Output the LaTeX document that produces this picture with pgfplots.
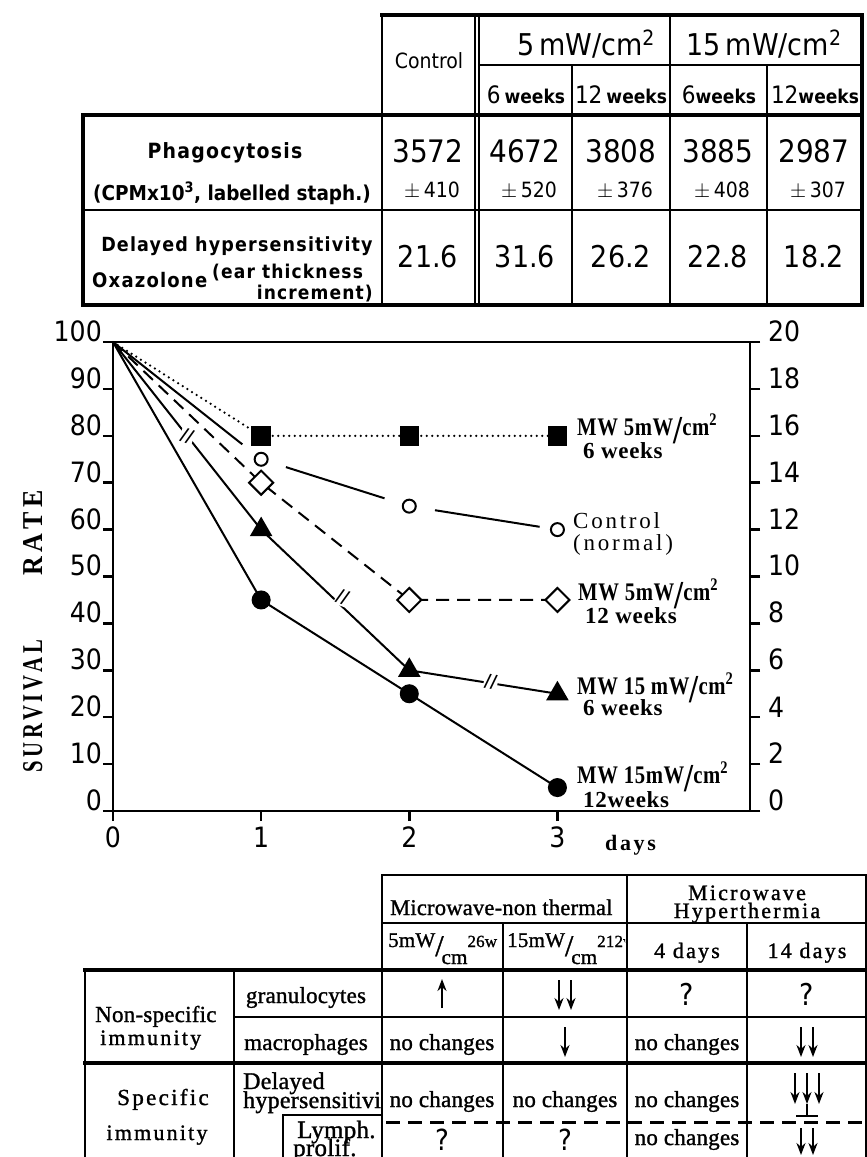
\documentclass[border=0pt]{standalone}
\usepackage{fontspec}
\usepackage{pgfplots}
\pgfplotsset{compat=1.18}
\usetikzlibrary{arrows.meta}
\setmainfont{Liberation Serif}
\newfontfamily\nf{DejaVu Sans Condensed}
\newfontfamily\nfs[LetterSpace=6]{DejaVu Sans Condensed}
\newfontfamily\lf[LetterSpace=3]{Liberation Serif}
\newfontfamily\lfsp[LetterSpace=12]{Liberation Serif}
\newfontfamily\tf[LetterSpace=1,FakeBold=1.2]{Liberation Serif}
\newfontfamily\tfsp[LetterSpace=10,FakeBold=1.2]{Liberation Serif}
\newcommand{\fs}[1]{\fontsize{#1}{#1}\selectfont}
\newcommand{\T}[4][base]{\node[anchor=#1,inner sep=0pt] at (#2pt,-#3pt) {#4};}
\newcommand{\ML}[1]{\lf\bfseries\fs{23}\scalebox{0.9}[1.1]{MW #1mW\raisebox{-8pt}{\fs{36}/}cm\textsuperscript{2}}}

\begin{document}
\begin{tikzpicture}
\useasboundingbox (0pt,0pt) rectangle (867pt,-1157pt);
\clip (0pt,0pt) rectangle (867pt,-1157pt);
\fill[white] (0pt,0pt) rectangle (867pt,-1157pt);

% ---------------- top table ----------------
\begin{scope}[x=1pt,y=1pt,line width=2.5pt,line cap=rect]
\draw[line width=4pt] (382,-15) -- (862,-15);
\draw (382,-15) -- (382,-305);
\draw (475,-15) -- (475,-305);
\draw (479,-15) -- (479,-305);
\draw (572,-65) -- (572,-305);
\draw (670,-15) -- (670,-305);
\draw (767,-65) -- (767,-305);
\draw[line width=3.5pt] (862,-15) -- (862,-305);
\draw (479,-65) -- (862,-65);
\draw[line width=4pt] (83,-115) -- (862,-115);
\draw (83,-210) -- (862,-210);
\draw[line width=4pt] (83,-305) -- (862,-305);
\draw[line width=3.5pt] (83,-115) -- (83,-305);
\end{scope}

\T{429}{68}{\nf\fs{21}Control}
\T{586}{55}{\nf\fs{30}5\,mW/cm\textsuperscript{2}}
\T{764}{55}{\nf\fs{30}15\,mW/cm\textsuperscript{2}}
\T{526}{103}{\nf\fs{24}6\,{\bfseries\fs{19}weeks}}
\T{621}{103}{\nf\fs{24}12\,{\bfseries\fs{19}weeks}}
\T{719}{103}{\nf\fs{24}6{\bfseries\fs{19}weeks}}
\T{815}{103}{\nf\fs{24}12{\bfseries\fs{19}weeks}}

\T{428}{162}{\nf\fs{31}3572}
\T{525}{162}{\nf\fs{31}4672}
\T{621}{162}{\nf\fs{31}3808}
\T{718}{162}{\nf\fs{31}3885}
\T{814}{162}{\nf\fs{31}2987}
\T{432}{197}{\nf\fs{21}$\pm$\,410}
\T{529}{197}{\nf\fs{21}$\pm$\,520}
\T{625}{197}{\nf\fs{21}$\pm$\,376}
\T{722}{197}{\nf\fs{21}$\pm$\,408}
\T{818}{197}{\nf\fs{21}$\pm$\,307}
\T{428}{267}{\nf\fs{30}21.6}
\T{525}{267}{\nf\fs{30}31.6}
\T{621}{267}{\nf\fs{30}26.2}
\T{718}{267}{\nf\fs{30}22.8}
\T{814}{267}{\nf\fs{30}18.2}

\T{225}{158}{\nfs\bfseries\fs{21}Phagocytosis}
\T{232}{200}{\nf\bfseries\fs{20.5}(CPMx10\textsuperscript{3}, labelled staph.)}
\T{237}{251}{\nfs\bfseries\fs{19.5}Delayed hypersensitivity}
\T[base west]{92}{287}{\nfs\bfseries\fs{20}Oxazolone}
\T[base west]{212}{278}{\nfs\bfseries\fs{19}(ear thickness}
\T[base east]{373}{299}{\nfs\bfseries\fs{19}increment)}

% ---------------- chart ----------------
\begin{axis}[
  at={(113pt,-811pt)}, anchor=south west, scale only axis,
  width=637pt, height=469pt,
  xmin=0, xmax=4.3, ymin=0, ymax=100,
  xtick={0,1,2,3}, ytick={0,10,...,100},
  xtick pos=bottom, ytick pos=left,
  tick align=outside, major tick length=10pt,
  tick style={line width=2.5pt,black},
  axis line style={line width=2.5pt},
  /pgf/number format/assume math mode=true,
  yticklabel style={anchor=south east, inner sep=0pt, font=\nf\fs{28}, xshift=-1pt},
  xticklabel style={anchor=north, inner sep=0pt, font=\nf\fs{28}, yshift=-6pt},
  clip=false,
]
% MW 5 mW/cm2, 6 weeks
\addplot[black, line width=2.5pt, line cap=round, dash pattern=on 0pt off 5.5pt,
  mark=square*, mark size=8.5pt, mark options={solid}, mark indices={2,3,4}]
  coordinates {(0,100) (1,80) (2,80) (3,80)};
% Control (normal)
\addplot[black, line width=2pt, shorten >=24pt, mark=none] coordinates {(0,100) (1,75)};
\addplot[black, line width=2pt, shorten <=26pt, shorten >=26pt, mark=none] coordinates {(1,75) (2,65)};
\addplot[black, line width=2pt, shorten <=26pt, shorten >=18pt, mark=none] coordinates {(2,65) (3,60)};
\addplot[only marks, mark=*, mark size=6.5pt, mark options={fill=white, draw=black, line width=2pt}]
  coordinates {(1,75) (2,65) (3,60)};
% MW 5 mW/cm2, 12 weeks
\addplot[black, line width=2pt, dash pattern=on 13pt off 8pt,
  mark=square*, mark size=8.5pt, mark options={solid, rotate=45, fill=white, line width=2pt}, mark indices={2,3,4}]
  coordinates {(0,100) (1,70) (2,45) (3,45)};
% MW 15 mW/cm2, 6 weeks
\addplot[black, line width=2pt, mark=triangle*, mark size=11pt, mark indices={2,3,4}]
  coordinates {(0,100) (1,60) (2,30) (3,25)};
% MW 15 mW/cm2, 12 weeks
\addplot[black, line width=2pt, mark=*, mark size=8.5pt, mark indices={2,3,4}]
  coordinates {(0,100) (1,45) (2,25) (3,5)};
% break marks on the 6-week 15 mW line
\node[fill=white, inner sep=1pt, rotate=-20] at (axis cs:0.5,80) {\nf\bfseries\fs{18}//};
\node[fill=white, inner sep=1pt, rotate=-20] at (axis cs:1.55,45.5) {\nf\bfseries\fs{18}//};
\node[fill=white, inner sep=1pt, rotate=-10] at (axis cs:2.55,27.5) {\nf\bfseries\fs{18}//};
\end{axis}
\begin{axis}[
  at={(113pt,-811pt)}, anchor=south west, scale only axis,
  width=637pt, height=469pt,
  xmin=0, xmax=4.3, ymin=0, ymax=20,
  ytick={0,2,...,20}, axis y line*=right, hide x axis,
  tick align=outside, major tick length=10pt,
  tick style={line width=2.5pt,black},
  axis line style={line width=2.5pt},
  /pgf/number format/assume math mode=true,
  yticklabel style={anchor=south west, inner sep=0pt, font=\nf\fs{28}, xshift=8pt},
]
\addplot[draw=none] coordinates {(0,0) (1,0)};
\end{axis}

% chart labels
\T[base west]{577}{435}{\ML{5}}
\T[base west]{583}{458}{\lf\bfseries\fs{23}6 weeks}
\T[base west]{573}{528}{\lfsp\fs{23}Control}
\T[base west]{573}{550}{\lfsp\fs{23}(normal)}
\T[base west]{578}{600}{\ML{5}}
\T[base west]{585}{623}{\lf\bfseries\fs{23}12 weeks}
\T[base west]{577}{694}{\ML{15 }}
\T[base west]{583}{715}{\lf\bfseries\fs{23}6 weeks}
\T[base west]{577}{783}{\ML{15}}
\T[base west]{583}{807}{\lf\bfseries\fs{23}12weeks}
\T[base west]{605}{850}{\lfsp\bfseries\fs{22}days}
\node[rotate=90, anchor=base, inner sep=0pt] at (42pt,-706pt) {\resizebox{132pt}{19pt}{\bfseries S\,U\,R\,V\,I\,V\,A\,L}};
\node[rotate=90, anchor=base, inner sep=0pt] at (42pt,-533pt) {\resizebox{85pt}{19pt}{\bfseries R\,A\,T\,E}};

% ---------------- bottom table ----------------
\begin{scope}[x=1pt,y=1pt,line width=2.5pt,line cap=rect]
\draw (382,-875) -- (870,-875);
\draw (382,-875) -- (382,-1160);
\draw (627,-875) -- (627,-1160);
\draw (866,-875) -- (866,-1160);
\draw (382,-923) -- (870,-923);
\draw (503,-923) -- (503,-1160);
\draw (747,-923) -- (747,-1160);
\draw[line width=3.5pt] (85,-970) -- (870,-970);
\draw (85,-970) -- (85,-1160);
\draw (234,-970) -- (234,-1160);
\draw (234,-1017) -- (870,-1017);
\draw[line width=3.5pt] (85,-1063) -- (870,-1063);
\draw (283,-1115) -- (382,-1115);
\draw (283,-1115) -- (283,-1160);
\draw[line cap=butt, dash pattern=on 14pt off 8pt, line width=3pt] (386,-1122) -- (870,-1122);
\end{scope}

\begin{scope}
\clip (384pt,-877pt) rectangle (628pt,-921pt);
\T[base west]{390}{915}{\tf\fs{22.5}Microwave-non thermal}
\end{scope}
\T{747}{900}{\tfsp\fs{22}Microwave}
\T{747}{918}{\tfsp\fs{22}Hyperthermia}
\begin{scope}
\clip (384pt,-925pt) rectangle (501pt,-968pt);
\T[base west]{388}{947}{\tf\fs{21}5mW\raisebox{-9pt}{\fs{30}/}\kern-2pt\raisebox{-17pt}{cm}{\fs{17}26w}}
\end{scope}
\begin{scope}
\clip (505pt,-925pt) rectangle (625pt,-968pt);
\T[base west]{507}{947}{\tf\fs{21}15mW\raisebox{-9pt}{\fs{30}/}\kern-2pt\raisebox{-17pt}{cm}{\fs{17}212w}}
\end{scope}
\T{687}{958}{\tfsp\fs{22}4 days}
\T{807}{958}{\tfsp\fs{22}14 days}

\T[base west]{95}{1022}{\tf\fs{23}Non-specific}
\T[base west]{100}{1045}{\tfsp\fs{22}immunity}
\T{306}{1003}{\tf\fs{23}granulocytes}
\T{306}{1050}{\tf\fs{23}macrophages}
\T{442}{1050}{\tf\fs{23}no changes}
\T{687}{1050}{\tf\fs{23}no changes}
\T{163}{1105}{\tfsp\fs{23}Specific}
\T{157}{1140}{\tfsp\fs{22}immunity}
\T[base west]{243}{1089}{\tf\fs{24}Delayed}
\begin{scope}
\clip (236pt,-1090pt) rectangle (381pt,-1120pt);
\T[base west]{243}{1108}{\tf\fs{24}hypersensitivity}
\end{scope}
\T[base west]{297}{1138}{\tf\fs{25}Lymph.}
\T[base west]{293}{1156}{\tf\fs{25}prolif.}
\T{442}{1107}{\tf\fs{23}no changes}
\T{565}{1107}{\tf\fs{23}no changes}
\T{687}{1107}{\tf\fs{23}no changes}
\T{442}{1150}{\nf\fs{29}?}
\T{565}{1150}{\nf\fs{29}?}
\T{687}{1145}{\tf\fs{23}no changes}
\T{687}{1005}{\nf\fs{30}?}
\T{807}{1005}{\nf\fs{30}?}

\begin{scope}[x=1pt,y=1pt,line width=2.5pt,>={Stealth[length=12pt,width=9pt]}]
\draw[->] (442,-1008) -- (442,-979);
\draw[->] (559,-980) -- (559,-1010);
\draw[->] (571,-980) -- (571,-1010);
\draw[->] (565,-1027) -- (565,-1057);
\draw[->] (801,-1027) -- (801,-1057);
\draw[->] (813,-1027) -- (813,-1057);
\draw[->] (795,-1073) -- (795,-1104);
\draw[->] (807,-1073) -- (807,-1104);
\draw[->] (819,-1073) -- (819,-1104);
\draw (807,-1104) -- (807,-1116);
\draw (796,-1116) -- (818,-1116);
\draw[->] (801,-1128) -- (801,-1155);
\draw[->] (813,-1128) -- (813,-1155);
\end{scope}
\end{tikzpicture}
\end{document}
